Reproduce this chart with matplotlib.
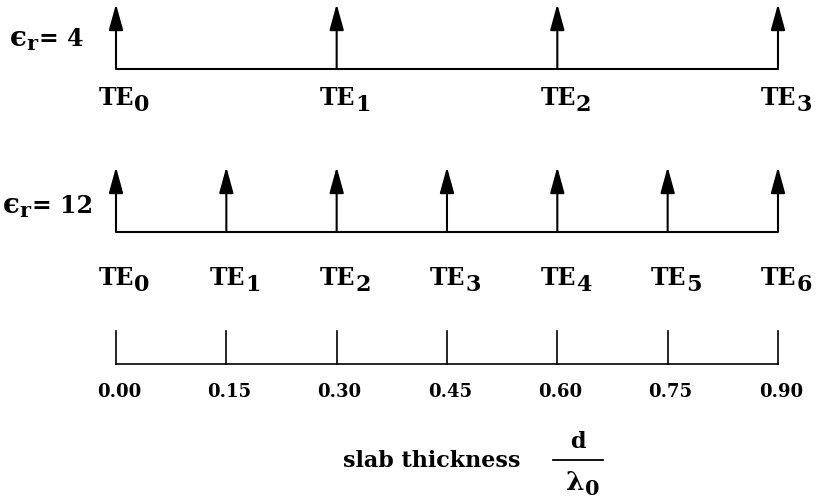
import matplotlib.pyplot as plt
import numpy as np

# cutoff thicknesses d/lambda0 of the TE modes for each permittivity
er4_cutoffs = [0.00, 0.30, 0.60, 0.90]
er12_cutoffs = [0.00, 0.15, 0.30, 0.45, 0.60, 0.75, 0.90]
er4_modes = ['0', '1', '2', '3']
er12_modes = ['0', '1', '2', '3', '4', '5', '6']
axis_ticks = [0.00, 0.15, 0.30, 0.45, 0.60, 0.75, 0.90]
tick_labels = ['0.00', '0.15', '0.30', '0.45', '0.60', '0.75', '0.90']

fig = plt.figure(figsize=(8.23, 5.02), dpi=100)
ax = fig.add_axes([0, 0, 1, 1])
px = 0.15 / 110.33  # data units per pixel along x
ax.set_xlim(-116 * px, (823 - 116) * px)
ax.set_ylim(502, 0)
ax.axis('off')
renderer = fig.canvas.get_renderer()

font = dict(family='DejaVu Serif', fontweight='bold', color='black')


def text_end(t):
    # right edge of a drawn text, in data x
    bb = t.get_window_extent(renderer)
    return ax.transData.inverted().transform((bb.x1, bb.y0))[0]


def sub_label(x, y, base, sub, size, sub_size, drop, tail=None, tail_size=None):
    # base text with a dropped subscript (and optional trailing text); drop in pixels
    t = ax.text(x, y, base, ha='left', va='baseline', fontsize=size, **font)
    s = ax.text(text_end(t), y + drop, sub, ha='left', va='baseline',
                fontsize=sub_size, **font)
    if tail:
        ax.text(text_end(s) + 1 * px, y, tail, ha='left', va='baseline',
                fontsize=tail_size, **font)


def draw_row(cutoffs, modes, base_y, label_y):
    ax.plot([cutoffs[0], cutoffs[-1]], [base_y, base_y], color='black', lw=1.5,
            solid_capstyle='butt')
    for x, m in zip(cutoffs, modes):
        ax.annotate('', xy=(x, base_y - 65), xytext=(x, base_y),
                    arrowprops=dict(arrowstyle='-|>,head_length=0.8,head_width=0.22',
                                    color='black', lw=1.5, mutation_scale=20,
                                    shrinkA=0, shrinkB=0))
        sub_label(x - 17 * px, label_y, 'TE', m, 17, 16, 6)


draw_row(er4_cutoffs, er4_modes, 70, 105)
draw_row(er12_cutoffs, er12_modes, 233, 285)

sub_label(-106 * px, 46, '\u03f5', 'r', 20, 15, 4, '= 4', 17)
sub_label(-113 * px, 213, '\u03f5', 'r', 20, 15, 4, '= 12', 17)

# thickness axis
axis_y = 365
ax.plot([axis_ticks[0], axis_ticks[-1]], [axis_y, axis_y], color='black', lw=1.2)
for t, lab in zip(axis_ticks, tick_labels):
    ax.plot([t, t], [axis_y - 33, axis_y], color='black', lw=1.2)
    ax.text(t + 3 * px, 397, lab, ha='center', va='baseline', fontsize=13, **font)

ax.text(316 * px, 467, 'slab thickness', ha='center', va='baseline', fontsize=16, **font)
ax.text(462 * px, 448, 'd', ha='center', va='baseline', fontsize=16, **font)
ax.plot([437 * px, 487 * px], [461, 461], color='black', lw=1.3)
sub_label(450 * px, 490, '\u03bb', '0', 19, 15, 5)

fig.savefig('out.png', dpi=100)
